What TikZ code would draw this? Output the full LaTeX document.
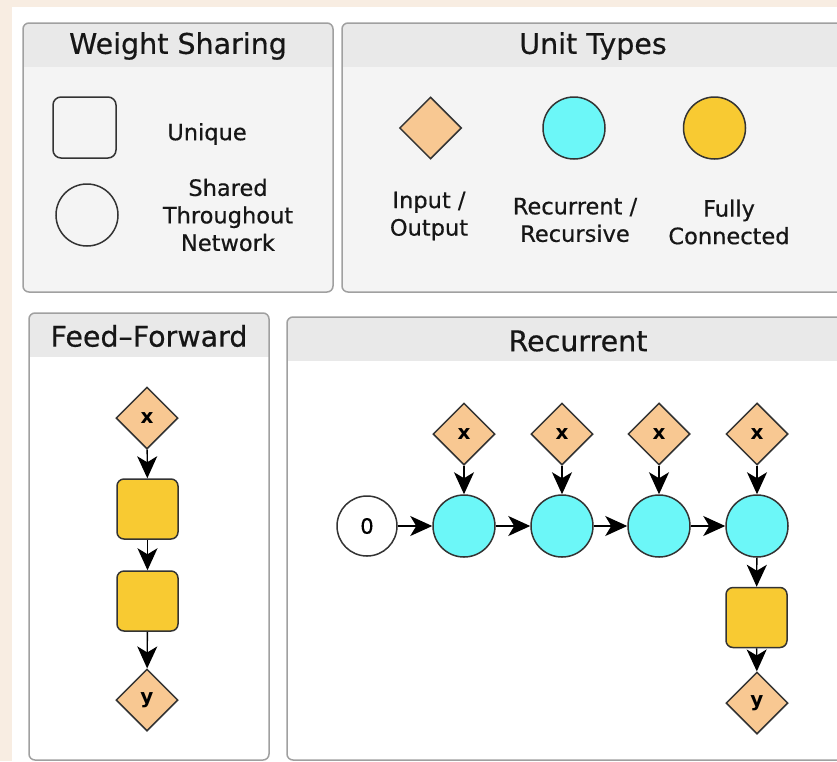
\documentclass[tikz,border=0pt]{standalone}
\usepackage{fontspec}
\setmainfont{DejaVu Sans}
\newfontfamily\uifont{DejaVu Sans}[RawFeature={embolden=0.5}]
\usetikzlibrary{shapes.geometric,arrows.meta}

\definecolor{paper}{HTML}{F8EDE2}
\definecolor{panelhead}{HTML}{E9E9E9}
\definecolor{panelbody}{HTML}{F4F4F4}
\definecolor{panelrim}{HTML}{A0A0A0}
\definecolor{iocol}{HTML}{F8C892}
\definecolor{reccol}{HTML}{6CF7F8}
\definecolor{fccol}{HTML}{F8CA32}
\definecolor{inkcol}{HTML}{333333}
\definecolor{textcol}{HTML}{161616}

\tikzset{
  iounit/.style={diamond, shape aspect=1, draw=inkcol, line width=1.5pt, fill=iocol,
    minimum width=62pt, minimum height=62pt, inner sep=0pt,
    font=\fontsize{20}{20}\selectfont\bfseries},
  recunit/.style={circle, draw=inkcol, line width=1.5pt, fill=reccol,
    minimum size=62pt, inner sep=0pt},
  fcunit/.style={rectangle, rounded corners=7pt, draw=inkcol, line width=1.5pt, fill=fccol,
    minimum width=61pt, minimum height=60pt, inner sep=0pt},
  legendshape/.style={draw=inkcol, line width=1.5pt, inner sep=0pt},
  flow/.style={-{Stealth[length=22pt,width=20pt,inset=6pt]}, line width=1.4pt, black},
  paneltitle/.style={font=\uifont\fontsize{28.5}{33}\selectfont, text=textcol},
  caption/.style={font=\uifont\fontsize{22.5}{27.5}\selectfont, text=textcol, align=center},
}

% panel: x1, y1, x2, y2, bottom of the header band, body colour
\newcommand{\drawpanel}[6]{%
  \begin{scope}
    \clip[rounded corners=6pt] (#1,#2) rectangle (#3,#4);
    \fill[#6] (#1,#2) rectangle (#3,#4);
    \fill[panelhead] (#1,#2) rectangle (#3,#5);
  \end{scope}
  \draw[panelrim, line width=1.5pt, rounded corners=6pt] (#1,#2) rectangle (#3,#4);
}

\begin{document}
\begin{tikzpicture}[x=1pt, y=-1pt]
  \useasboundingbox (0,0) rectangle (837,761);
  \fill[paper] (0,0) rectangle (837,761);
  \fill[white] (12,7) rectangle (837,761);

  % ---- panels ----
  \drawpanel{23}{23}{333}{292}{67}{panelbody}
  \drawpanel{342}{23}{850}{292}{67}{panelbody}
  \drawpanel{29}{313}{269}{760}{357}{white}
  \drawpanel{287}{317}{850}{760}{361}{white}

  \node[paneltitle] (wsTitle) at (178,46) {Weight Sharing};
  \node[paneltitle] (utTitle) at (593,46) {Unit Types};
  \node[paneltitle] (ffTitle) at (149,336) {Feed\textendash Forward};
  \node[paneltitle] (rnTitle) at (578,341) {Recurrent};

  % ---- weight sharing legend ----
  \node[legendshape, rounded corners=8pt, minimum width=63pt, minimum height=61pt] (uniqueBox) at (84.5,127.5) {};
  \node[legendshape, circle, minimum size=62pt] (sharedCirc) at (87,215) {};
  \node[caption] (uniqueLbl) at (207,134) {Unique};
  \node[caption] (sharedLbl) at (228,215) {Shared\\Throughout\\Network};

  % ---- unit types legend ----
  \node[iounit] (ioKey) at (430.5,128) {};
  \node[recunit] (recKey) at (574,128) {};
  \node[recunit, fill=fccol] (fcKey) at (714.5,128) {};
  \node[caption] (ioLbl) at (429,216) {Input /\\Output};
  \node[caption] (recLbl) at (575,220) {Recurrent /\\Recursive};
  \node[caption] (fcLbl) at (729,222) {Fully\\Connected};

  % ---- feed-forward network ----
  \node[iounit] (ffx) at (147,418) {x};
  \node[fcunit] (ff1) at (147.5,509) {};
  \node[fcunit] (ff2) at (147.5,601) {};
  \node[iounit] (ffy) at (147,700) {y};
  \draw[flow] (ffx) -- (ff1);
  \draw[flow] (ff1) -- (ff2);
  \draw[flow] (ff2) -- (ffy);

  % ---- recurrent network ----
  \node[circle, draw=inkcol, line width=1.5pt, fill=white, minimum size=60pt, inner sep=0pt,
        font=\uifont\fontsize{21}{21}\selectfont] (h0) at (367,526) {0};
  \foreach \i/\xx in {1/464,2/562,3/659,4/757}{
    \node[recunit] (h\i) at (\xx,526) {};
    \node[iounit] (x\i) at (\xx,434) {x};
    \draw[flow] (x\i) -- (h\i);
  }
  \draw[flow] (h0) -- (h1);
  \draw[flow] (h1) -- (h2);
  \draw[flow] (h2) -- (h3);
  \draw[flow] (h3) -- (h4);
  \node[fcunit] (rfc) at (756.5,617.5) {};
  \node[iounit] (ry) at (757,703) {y};
  \draw[flow] (h4) -- (rfc);
  \draw[flow] (rfc) -- (ry);
\end{tikzpicture}
\end{document}
